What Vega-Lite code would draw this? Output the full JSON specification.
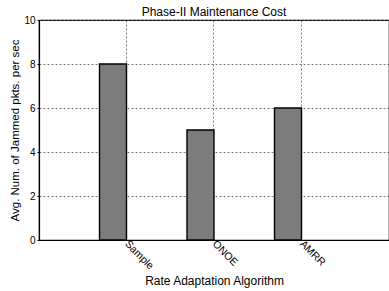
{
  "$schema": "https://vega.github.io/schema/vega-lite/v6.json",
  "autosize": "none",
  "width": 350,
  "height": 220,
  "padding": {"left": 39, "top": 20, "right": 0, "bottom": 51},
  "background": "white",
  "config": {
    "font": "Liberation Sans",
    "view": {"stroke": "black", "strokeWidth": 1.2},
    "axis": {"labelColor": "black", "titleColor": "black", "domainColor": "black", "tickColor": "black", "titleFontWeight": "normal"}
  },
  "title": {"text": "Phase-II Maintenance Cost", "fontSize": 12, "fontWeight": "normal", "color": "black", "offset": -4},
  "data": {"values": [
    {"algo": "Sample", "value": 8},
    {"algo": "ONOE", "value": 5},
    {"algo": "AMRR", "value": 6}
  ]},
  "mark": {"type": "bar", "fill": "#7c7c7c", "stroke": "black", "strokeWidth": 1.4, "width": 27, "xOffset": -13.5},
  "encoding": {
    "x": {
      "field": "algo", "type": "nominal", "sort": null,
      "scale": {"paddingInner": 0.6914, "paddingOuter": 0.8457},
      "axis": {
        "title": "Rate Adaptation Algorithm", "titleFontSize": 12, "titlePadding": 4,
        "labelAngle": 45, "labelAlign": "left", "labelBaseline": "middle", "labelFontSize": 10.5, "labelPadding": 2,
        "grid": true, "gridDash": [2, 2], "gridColor": "#555", "gridWidth": 0.8,
        "ticks": false, "domainWidth": 1.2
      }
    },
    "y": {
      "field": "value", "type": "quantitative",
      "scale": {"domain": [0, 10], "nice": false},
      "axis": {
        "title": "Avg. Num. of Jammed pkts. per sec", "titleFontSize": 11.5, "titlePadding": 3,
        "values": [0, 2, 4, 6, 8, 10], "labelFontSize": 10, "labelPadding": 2,
        "grid": true, "gridDash": [2, 2], "gridColor": "#555", "gridWidth": 0.8,
        "tickSize": 2, "domainWidth": 1.2
      }
    }
  }
}
